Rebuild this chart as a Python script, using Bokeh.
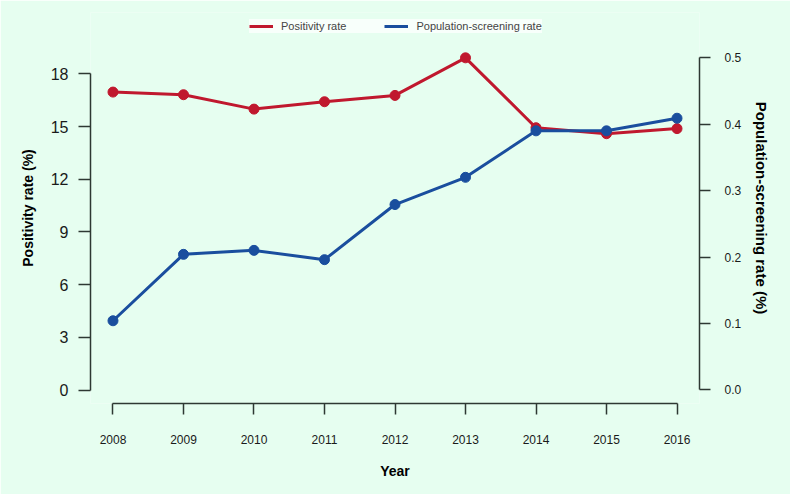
from bokeh.plotting import figure
from bokeh.models import Range1d, LinearAxis, FixedTicker, Legend, LegendItem, PrintfTickFormatter
from bokeh.embed import file_html
from bokeh.resources import INLINE

# ---- data ----
years = [2008, 2009, 2010, 2011, 2012, 2013, 2014, 2015, 2016]
positivity_rate = [16.96, 16.81, 15.99, 16.41, 16.77, 18.91, 14.93, 14.59, 14.88]
screening_rate = [0.104, 0.204, 0.210, 0.196, 0.279, 0.320, 0.390, 0.390, 0.409]
left_ticks = [0, 3, 6, 9, 12, 15, 18]
right_ticks = [0.0, 0.1, 0.2, 0.3, 0.4, 0.5]

BG = "#E6FEF0"
RED = "#C0182E"
BLUE = "#1A4E9E"
AXC = "#2E3833"
FONT = "Liberation Sans"

p = figure(width=790, height=494,
           x_range=Range1d(2007.681, 2016.319),
           y_range=Range1d(-0.768, 21.49),
           output_backend="svg", toolbar_location=None,
           min_border_left=90, min_border_right=91,
           min_border_top=12, min_border_bottom=91,
           background_fill_color=BG, border_fill_color=BG,
           outline_line_color=None)
p.xgrid.visible = False
p.ygrid.visible = False
p.extra_y_ranges = {"right": Range1d(-0.0206, 0.5682)}

def style_axis(ax):
    ax.axis_line_color = AXC
    ax.axis_line_width = 1.5
    ax.major_tick_line_color = AXC
    ax.major_tick_line_width = 1.5
    ax.minor_tick_line_color = None
    ax.major_tick_in = 0
    ax.major_label_text_font = FONT
    ax.major_label_text_color = "#1a1a1a"
    ax.axis_label_text_font = FONT
    ax.axis_label_text_font_style = "bold"
    ax.axis_label_text_color = "#000000"

# bottom axis
xa = p.xaxis[0]
style_axis(xa)
xa.ticker = FixedTicker(ticks=years)
xa.bounds = (years[0], years[-1])
xa.major_tick_out = 11
xa.major_label_standoff = 20
xa.major_label_text_font_size = "12px"
xa.axis_label = "Year"
xa.axis_label_text_font_size = "14px"
xa.axis_label_standoff = 16

# left axis
ya = p.yaxis[0]
style_axis(ya)
ya.ticker = FixedTicker(ticks=left_ticks)
ya.bounds = (left_ticks[0], left_ticks[-1])
ya.major_tick_out = 12
ya.major_label_standoff = 10
ya.major_label_text_font_size = "16px"
ya.axis_label = "Positivity rate (%)"
ya.axis_label_text_font_size = "14px"
ya.axis_label_standoff = 12

# right axis
ra = LinearAxis(y_range_name="right")
style_axis(ra)
ra.ticker = FixedTicker(ticks=right_ticks)
ra.bounds = (right_ticks[0], right_ticks[-1])
ra.formatter = PrintfTickFormatter(format="%.1f")
ra.major_tick_out = 11
ra.major_label_standoff = 14
ra.major_label_text_font_size = "12px"
ra.axis_label = "Population-screening rate (%)"
ra.axis_label_text_font_size = "15px"
ra.axis_label_standoff = 9
p.add_layout(ra, "right")

# series
red_line = p.line(years, positivity_rate, line_color=RED, line_width=3)
p.scatter(years, positivity_rate, size=10, fill_color=RED, line_color=RED)
blue_line = p.line(years, screening_rate, line_color=BLUE, line_width=3, y_range_name="right")
p.scatter(years, screening_rate, size=10, fill_color=BLUE, line_color=BLUE, y_range_name="right")

legend = Legend(items=[LegendItem(label="Positivity rate", renderers=[red_line]),
                       LegendItem(label="Population-screening rate", renderers=[blue_line])],
                orientation="horizontal", location=(159, 370),
                padding=8, spacing=38, margin=0,
                glyph_width=24, glyph_height=14, label_height=14, label_standoff=8,
                label_text_font=FONT, label_text_font_size="11px",
                background_fill_color="#F8FFFB", background_fill_alpha=1.0,
                border_line_color=None)
p.add_layout(legend)

open("out.html", "w").write(file_html(p, INLINE))
